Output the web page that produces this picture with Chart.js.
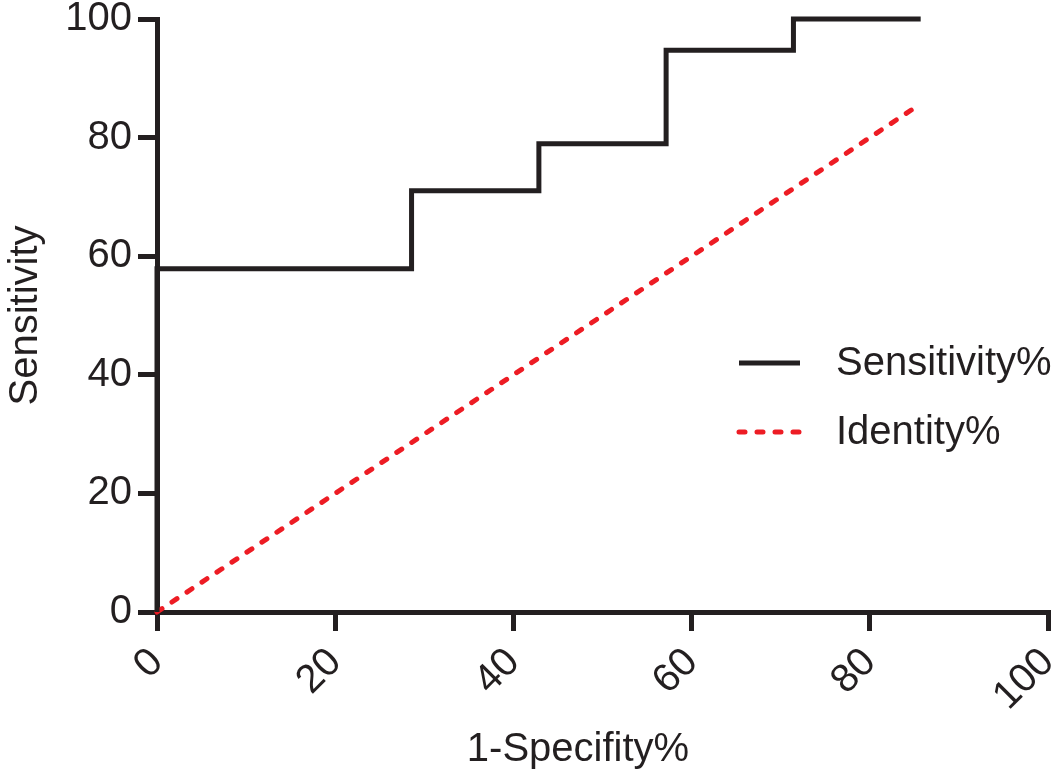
<!DOCTYPE html>
<html lang="en">
<head>
    <meta charset="UTF-8">
    <title>ROC curve</title>
    <script src="https://cdn.jsdelivr.net/npm/chart.js"></script>
    <style>
        html, body {
            margin: 0;
            padding: 0;
            background: #ffffff;
        }
        canvas {
            display: block;
        }
    </style>
</head>
<body>
    <canvas id="rocChart" width="1062" height="777"></canvas>

    <script>
        // ROC points (1-Specificity %, Sensitivity %)
        const fprValues = [0, 0, 28.57, 42.86, 57.14, 71.43, 85.71];
        const sensValues = [0, 57.89, 71.05, 78.95, 94.74, 100, 100];

        // reference (identity) line
        const identityX = [0, 85.71];
        const identityY = [0, 85.71];

        const seriesNames = ['Sensitivity%', 'Identity%'];
        const axisTicks = [0, 20, 40, 60, 80, 100];
        const xTitle = '1-Specifity%';

        const ink = '#231f20';
        const red = '#ed1c24';
        const font = "'Liberation Sans', Arial, sans-serif";

        // legend inside the plot on the right, plus the x title
        // (the original title sits a bit left of the axis centre)
        const legendPlugin = {
            id: 'insideLegend',
            afterDraw(chart) {
                const ctx = chart.ctx;
                const rows = [363, 432];
                chart.data.datasets.forEach((ds, i) => {
                    const y = rows[i];
                    ctx.save();
                    ctx.strokeStyle = ds.borderColor;
                    ctx.lineWidth = ds.borderWidth;
                    ctx.lineCap = ds.borderCapStyle || 'butt';
                    ctx.setLineDash(ds.borderDash || []);
                    ctx.beginPath();
                    ctx.moveTo(739, y);
                    ctx.lineTo(800, y);
                    ctx.stroke();
                    ctx.setLineDash([]);
                    ctx.fillStyle = ink;
                    ctx.font = '40px ' + font;
                    ctx.textBaseline = 'middle';
                    ctx.fillText(ds.label, 836, y + 1);
                    ctx.restore();
                });

                ctx.save();
                ctx.fillStyle = ink;
                ctx.font = '40px ' + font;
                ctx.textAlign = 'center';
                ctx.textBaseline = 'alphabetic';
                ctx.fillText(xTitle, 578, 761);
                ctx.restore();
            }
        };

        function toPoints(xs, ys) {
            return xs.map((x, i) => ({ x: x, y: ys[i] }));
        }

        const ctx = document.getElementById('rocChart').getContext('2d');
        const rocChart = new Chart(ctx, {
            type: 'line',
            data: {
                datasets: [{
                    label: seriesNames[0],
                    data: toPoints(fprValues, sensValues),
                    borderColor: ink,
                    borderWidth: 5,
                    stepped: 'before',
                    pointRadius: 0,
                    clip: false,
                    fill: false
                }, {
                    label: seriesNames[1],
                    data: toPoints(identityX, identityY),
                    borderColor: red,
                    borderWidth: 5,
                    borderDash: [6, 12],
                    borderCapStyle: 'round',
                    pointRadius: 0,
                    clip: false,
                    fill: false
                }]
            },
            options: {
                responsive: false,
                animation: false,
                layout: {
                    padding: { top: 19, right: 14, left: 0, bottom: 0 }
                },
                plugins: {
                    legend: { display: false },
                    tooltip: { enabled: false }
                },
                scales: {
                    x: {
                        type: 'linear',
                        min: 0,
                        max: 100,
                        afterBuildTicks: s => { s.ticks = axisTicks.map(v => ({ value: v })); },
                        afterFit: s => {
                            s.height = 165;
                            s.paddingLeft = 0; s.paddingRight = 0;
                        },
                        grid: {
                            display: true,
                            drawOnChartArea: false,
                            drawTicks: true,
                            tickLength: 19,
                            lineWidth: 5,
                            color: ink
                        },
                        border: { display: true, width: 5, color: ink },
                        ticks: {
                            minRotation: 45,
                            maxRotation: 45,
                            padding: 8,
                            color: ink,
                            font: { family: font, size: 40 }
                        },
                        title: { display: false }
                    },
                    y: {
                        type: 'linear',
                        min: 0,
                        max: 100,
                        afterBuildTicks: s => { s.ticks = axisTicks.map(v => ({ value: v })); },
                        afterFit: s => {
                            s.width = 157;
                            s.paddingTop = 0; s.paddingBottom = 0;
                        },
                        grid: {
                            display: true,
                            drawOnChartArea: false,
                            drawTicks: true,
                            tickLength: 19,
                            lineWidth: 5,
                            color: ink
                        },
                        border: { display: true, width: 5, color: ink },
                        ticks: {
                            padding: 6,
                            color: ink,
                            font: { family: font, size: 40 }
                        },
                        title: {
                            display: true,
                            text: 'Sensitivity',
                            color: ink,
                            font: { family: font, size: 40 },
                            padding: { top: 2, bottom: 0 }
                        }
                    }
                }
            },
            plugins: [legendPlugin]
        });
    </script>
</body>
</html>
